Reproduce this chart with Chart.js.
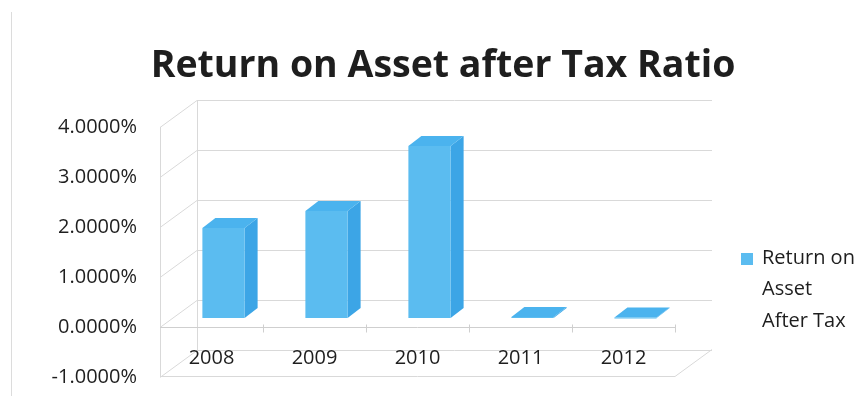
<!DOCTYPE html>
<html>
<head>
<meta charset="utf-8">
<script src="https://cdn.jsdelivr.net/npm/chart.js@4.4.1/dist/chart.umd.min.js"></script>
<style>
  html, body { margin: 0; padding: 0; background: #fff; }
  #wrap { position: relative; width: 862px; height: 396px; }
  #frame { position: absolute; left: 11px; top: 12px; bottom: 0; border-left: 1px solid #dcdcdc; }
</style>
</head>
<body>
<div id="wrap">
  <canvas id="roaChart" width="862" height="396"></canvas>
  <div id="frame"></div>
</div>
<script>
// Data
const years = ['2008', '2009', '2010', '2011', '2012'];
const roaValues = [1.80, 2.14, 3.44, 0.02, 0.01];
const yTicks = [-1, 0, 1, 2, 3, 4];
const seriesName = ['Return on', 'Asset', 'After Tax'];
const chartTitle = 'Return on Asset after Tax Ratio';

// Look
const FRONT = '#5bbcf0';
const SIDE = '#3ca5e6';
const TOP = '#4bb3ee';
const GRID = '#d9d9d9';
const TEXT = '#1e1e1e';
const FONT = '"Open Sans", "Liberation Sans", sans-serif';
const WALL = { dx: 37, dy: -27 };      // depth of side wall / floor
const BAR_SHIFT = { dx: 12, dy: -9 };  // bars stand a little behind the front plane
const BAR_DEPTH = { dx: 13, dy: -10 };

function line(ctx, x1, y1, x2, y2) {
  ctx.beginPath();
  ctx.moveTo(x1, y1);
  ctx.lineTo(x2, y2);
  ctx.stroke();
}

function poly(ctx, pts, color) {
  ctx.beginPath();
  ctx.moveTo(pts[0][0], pts[0][1]);
  pts.slice(1).forEach(p => ctx.lineTo(p[0], p[1]));
  ctx.closePath();
  ctx.fillStyle = color;
  ctx.fill();
}

// Walls, floor and 3D boxes for the bars
const box3d = {
  id: 'box3d',
  beforeDatasetsDraw(chart) {
    const ctx = chart.ctx;
    const { left, right, top, bottom } = chart.chartArea;
    const yScale = chart.scales.y;
    const xScale = chart.scales.x;

    ctx.save();
    ctx.strokeStyle = GRID;
    ctx.lineWidth = 1;

    yTicks.forEach(v => {
      const py = Math.round(yScale.getPixelForValue(v)) + 0.5;
      line(ctx, left, py, left + WALL.dx, py + WALL.dy);
      line(ctx, left + WALL.dx, py + WALL.dy, right + WALL.dx, py + WALL.dy);
    });
    line(ctx, left + 0.5, top, left + 0.5, bottom);
    line(ctx, left + WALL.dx + 0.5, top + WALL.dy, left + WALL.dx + 0.5, bottom + WALL.dy);

    // floor front edge
    const fb = Math.round(bottom) - 0.5;
    line(ctx, left, fb, right, fb);
    line(ctx, right, fb, right + WALL.dx, fb + WALL.dy);

    // category axis at zero
    const y0 = Math.round(yScale.getPixelForValue(0)) + 0.5;
    ctx.strokeStyle = '#cfcfcf';
    line(ctx, left, y0, right, y0);
    for (let i = 1; i <= years.length; i++) {
      const xb = Math.round(xScale.getPixelForValue(i - 0.5)) + 0.5;
      line(ctx, xb, y0 - 3, xb, y0 + 5);
    }

    // bars
    const meta = chart.getDatasetMeta(0);
    meta.data.forEach(bar => {
      const p = bar.getProps(['x', 'y', 'base', 'width'], true);
      const l = p.x - p.width / 2 + BAR_SHIFT.dx;
      const r = p.x + p.width / 2 + BAR_SHIFT.dx;
      const t = p.y + BAR_SHIFT.dy;
      const b = p.base + BAR_SHIFT.dy;
      poly(ctx, [[r, b], [r, t], [r + BAR_DEPTH.dx, t + BAR_DEPTH.dy], [r + BAR_DEPTH.dx, b + BAR_DEPTH.dy]], SIDE);
      poly(ctx, [[l, t], [r, t], [r + BAR_DEPTH.dx, t + BAR_DEPTH.dy], [l + BAR_DEPTH.dx, t + BAR_DEPTH.dy]], TOP);
      ctx.fillStyle = FRONT;
      ctx.fillRect(l, t, r - l, Math.max(b - t, 1));
    });

    // category labels on the floor
    ctx.fillStyle = TEXT;
    ctx.font = '20px ' + FONT;
    ctx.textAlign = 'center';
    ctx.textBaseline = 'middle';
    years.forEach((yr, i) => {
      ctx.fillText(yr, xScale.getPixelForValue(i), bottom - 19);
    });

    ctx.restore();
    return false;
  },
  afterDraw(chart) {
    const ctx = chart.ctx;
    ctx.save();
    // title
    ctx.fillStyle = TEXT;
    ctx.font = 'bold 37.5px ' + FONT;
    ctx.textAlign = 'center';
    ctx.textBaseline = 'alphabetic';
    ctx.fillText(chartTitle, 443, 77);

    // legend
    ctx.fillStyle = FRONT;
    ctx.fillRect(741, 253, 12, 12);
    ctx.fillStyle = TEXT;
    ctx.font = '20px ' + FONT;
    ctx.textAlign = 'left';
    ctx.textBaseline = 'middle';
    seriesName.forEach((s, i) => ctx.fillText(s, 762, 258 + i * 31.5));
    ctx.restore();
  }
};

new Chart(document.getElementById('roaChart'), {
  type: 'bar',
  data: {
    labels: years,
    datasets: [{
      label: seriesName.join(' '),
      data: roaValues,
      backgroundColor: FRONT,
      categoryPercentage: 1,
      barPercentage: 0.41
    }]
  },
  options: {
    responsive: false,
    animation: false,
    devicePixelRatio: 1,
    layout: { padding: { top: 127, right: 187, bottom: 19, left: 0 } },
    plugins: {
      legend: { display: false },
      title: { display: false },
      tooltip: { enabled: false }
    },
    scales: {
      x: {
        display: false
      },
      y: {
        min: -1,
        max: 4,
        grid: { display: false, drawTicks: false },
        border: { display: false },
        afterFit(scale) {
          scale.width = 160;
          // tick padding would otherwise be added above/below the axis
          scale.paddingTop = 0;
          scale.paddingBottom = 0;
        },
        ticks: {
          stepSize: 1,
          padding: 23,
          color: TEXT,
          font: { family: FONT, size: 20 },
          callback: v => v.toFixed(4) + '%'
        }
      }
    }
  },
  plugins: [box3d]
});
</script>
</body>
</html>
